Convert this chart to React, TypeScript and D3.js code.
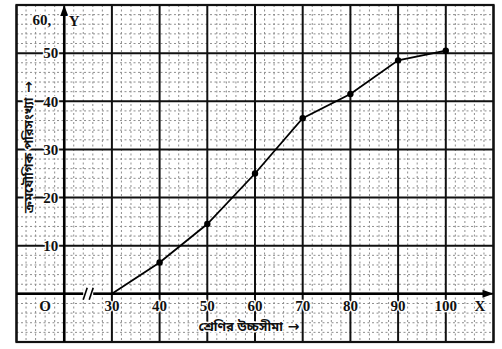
import React from "react";
import * as d3 from "d3";

const upperLimits = [30, 40, 50, 60, 70, 80, 90, 100];
const cumFrequency = [0, 6.5, 14.5, 25, 36.5, 41.5, 48.5, 50.5];
const xTickLabels = ["30", "40", "50", "60", "70", "80", "90", "100"];
const yTickValues = [10, 20, 30, 40, 50];
const xAxisTitle = "শ্রেণির উচ্চসীমা";
const yAxisTitle = "ক্রমযৌগিক পরিসংখ্যা";
const arrow = "→";

const W = 502;
const H = 349;

export default function App() {
  const x = d3.scaleLinear().domain([10, 110]).range([16.5, 493.5]);
  const y = d3.scaleLinear().domain([-10, 60]).range([342, 5]);

  const majorX = d3.range(10, 111, 10);
  const majorY = d3.range(-10, 61, 10);
  const minorX = d3.range(10, 110.01, 2).filter((v) => v % 10 !== 0);
  const minorY = d3.range(-10, 60.01, 2).filter((v) => Math.abs(v % 10) !== 0);

  const line = d3
    .line<number>()
    .x((_, i) => x(upperLimits[i]))
    .y((d) => y(d))
    .curve(d3.curveLinear);

  const serif = "'Liberation Serif', 'DejaVu Serif', serif";
  const beng = "'Noto Sans Bengali', 'Noto Serif Bengali', 'Lohit Bengali', 'Mukti', sans-serif";
  const x0 = x(20);
  const y0 = y(0);

  return (
    <svg
      width={W}
      height={H}
      style={{ position: "absolute", left: 0, top: 0, background: "#fff" }}
    >
      <rect x={0} y={0} width={W} height={H} fill="#fff" />
      {/* minor grid */}
      <g stroke="#444" strokeWidth={1} strokeDasharray="2,2.5" opacity={0.6}>
        {minorX.map((v) => (
          <line key={"mx" + v} x1={x(v)} x2={x(v)} y1={y(60)} y2={y(-10)} />
        ))}
        {minorY.map((v) => (
          <line key={"my" + v} x1={x(10)} x2={x(110)} y1={y(v)} y2={y(v)} />
        ))}
      </g>
      {/* major grid */}
      <g stroke="#111" strokeWidth={2}>
        {majorX.map((v) => (
          <line key={"MX" + v} x1={x(v)} x2={x(v)} y1={y(60)} y2={y(-10)} />
        ))}
        {majorY.map((v) => (
          <line key={"MY" + v} x1={x(10)} x2={x(110)} y1={y(v)} y2={y(v)} />
        ))}
      </g>
      {/* frame */}
      <rect
        x={x(10)}
        y={y(60)}
        width={x(110) - x(10)}
        height={y(-10) - y(60)}
        fill="none"
        stroke="#111"
        strokeWidth={2.2}
      />
      {/* axes */}
      <line x1={x0} x2={x0} y1={y(-10)} y2={y(60) + 6} stroke="#000" strokeWidth={2.5} />
      <path d={`M${x0},${y(60)} L${x0 - 4},${y(60) + 11} L${x0 + 4},${y(60) + 11} Z`} fill="#000" />
      <line x1={x(10)} x2={x(110) - 6} y1={y0} y2={y0} stroke="#000" strokeWidth={2.5} />
      <path d={`M${x(110)},${y0} L${x(110) - 11},${y0 - 4} L${x(110) - 11},${y0 + 4} Z`} fill="#000" />
      {/* axis break */}
      <rect x={x0 + 19} y={y0 - 6} width={10} height={12} fill="#fff" />
      <g stroke="#000" strokeWidth={1.6}>
        <line x1={x0 + 19} x2={x0 + 23} y1={y0 + 6} y2={y0 - 6} />
        <line x1={x0 + 25} x2={x0 + 29} y1={y0 + 6} y2={y0 - 6} />
      </g>
      {/* curve */}
      <path d={line(cumFrequency) || ""} fill="none" stroke="#000" strokeWidth={1.8} />
      {cumFrequency.map((v, i) =>
        i === 0 ? null : (
          <circle key={"p" + i} cx={x(upperLimits[i])} cy={y(v)} r={3.2} fill="#000" />
        )
      )}
      {/* tick labels */}
      <g
        fontFamily={serif}
        fontWeight="bold"
        fontSize={15}
        fill="#111"
        stroke="#fff"
        strokeWidth={2.5}
        paintOrder="stroke"
      >
        {yTickValues.map((v) => (
          <text key={"yt" + v} x={x0 - 6} y={y(v)} dy="0.35em" textAnchor="end">
            {v}
          </text>
        ))}
        <text x={x0 - 13} y={20} dy="0.35em" textAnchor="end">
          60,
        </text>
        <text x={x0 + 10} y={21} dy="0.35em" textAnchor="middle">
          Y
        </text>
        {xTickLabels.map((t, i) => (
          <text key={"xt" + t} x={x(upperLimits[i])} y={306} dy="0.35em" textAnchor="middle">
            {t}
          </text>
        ))}
        <text x={45} y={306} dy="0.35em" textAnchor="middle">
          O
        </text>
        <text x={480} y={306} dy="0.35em" textAnchor="middle">
          X
        </text>
      </g>
      {/* axis titles */}
      <text
        x={249}
        y={326}
        dy="0.35em"
        textAnchor="middle"
        fontFamily={beng}
        fontWeight="bold"
        fontSize={13}
        fill="#111"
        stroke="#fff"
        strokeWidth={3}
        paintOrder="stroke"
      >
        {xAxisTitle}
        <tspan fontFamily="'DejaVu Sans', sans-serif" fontSize={14}>
          {" " + arrow}
        </tspan>
      </text>
      <text
        transform={`translate(28,147) rotate(-90)`}
        textAnchor="middle"
        dy="0.35em"
        fontFamily={beng}
        fontWeight="bold"
        fontSize={13}
        fill="#111"
        stroke="#fff"
        strokeWidth={3}
        paintOrder="stroke"
      >
        {yAxisTitle}
        <tspan fontFamily="'DejaVu Sans', sans-serif" fontSize={14}>
          {"  " + arrow}
        </tspan>
      </text>
    </svg>
  );
}
